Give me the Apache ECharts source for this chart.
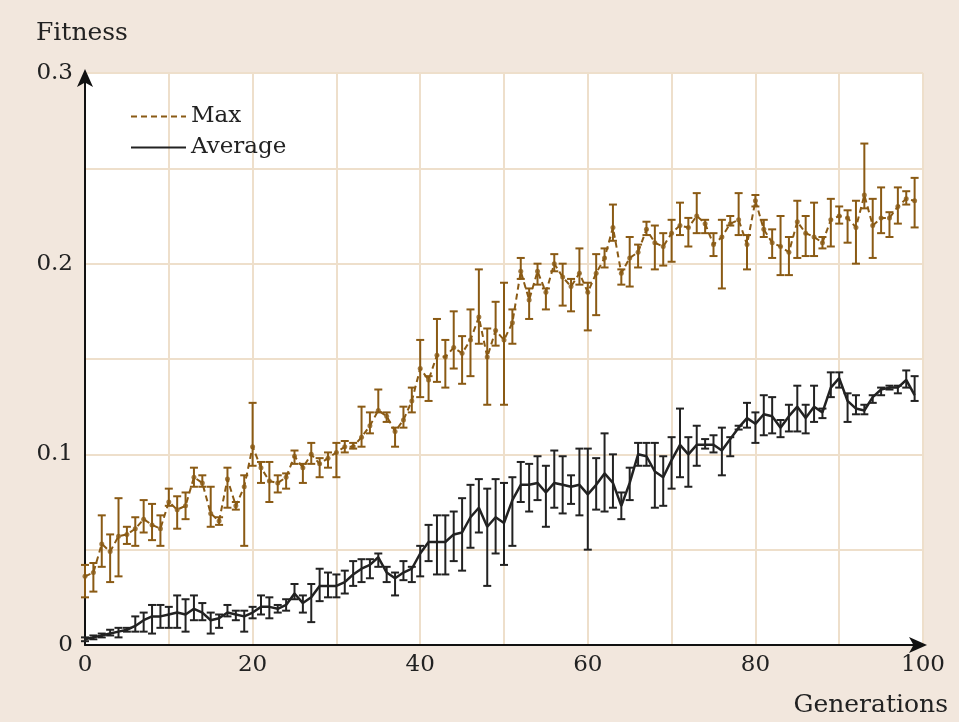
<!DOCTYPE html>
<html>
<head>
<meta charset="utf-8">
<script src="https://cdn.jsdelivr.net/npm/echarts@6/dist/echarts.min.js"></script>
<style>
html,body{margin:0;padding:0;background:#f2e7dd;}
#chart{width:959px;height:722px;}
</style>
</head>
<body>
<div id="chart"></div>
<script>
const generations = [0,1,2,3,4,5,6,7,8,9,10,11,12,13,14,15,16,17,18,19,20,21,22,23,24,25,26,27,28,29,30,31,32,33,34,35,36,37,38,39,40,41,42,43,44,45,46,47,48,49,50,51,52,53,54,55,56,57,58,59,60,61,62,63,64,65,66,67,68,69,70,71,72,73,74,75,76,77,78,79,80,81,82,83,84,85,86,87,88,89,90,91,92,93,94,95,96,97,98,99];

const maxMean = [0.036,0.038,0.053,0.049,0.057,0.058,0.061,0.066,0.063,0.061,0.075,0.071,0.073,0.088,0.085,0.069,0.065,0.087,0.073,0.083,
0.104,0.093,0.086,0.085,0.088,0.099,0.093,0.100,0.095,0.098,0.101,0.104,0.104,0.109,0.115,0.123,0.120,0.112,0.118,0.128,
0.145,0.139,0.152,0.151,0.156,0.153,0.160,0.172,0.151,0.165,0.160,0.169,0.196,0.181,0.196,0.185,0.200,0.193,0.188,0.195,
0.185,0.195,0.203,0.219,0.195,0.203,0.206,0.218,0.211,0.209,0.216,0.220,0.219,0.225,0.221,0.210,0.214,0.221,0.223,0.210,
0.233,0.218,0.211,0.209,0.206,0.222,0.216,0.214,0.211,0.223,0.225,0.224,0.219,0.236,0.220,0.224,0.224,0.230,0.234,0.233];
const maxLow = [0.025,0.028,0.041,0.033,0.036,0.053,0.052,0.059,0.055,0.052,0.073,0.061,0.066,0.083,0.083,0.062,0.063,0.072,0.071,0.052,
0.094,0.085,0.075,0.080,0.082,0.095,0.085,0.095,0.088,0.093,0.088,0.101,0.103,0.104,0.111,0.122,0.117,0.104,0.114,0.122,
0.130,0.128,0.138,0.135,0.145,0.137,0.141,0.158,0.126,0.157,0.126,0.158,0.192,0.171,0.189,0.176,0.196,0.178,0.175,0.189,
0.165,0.173,0.198,0.212,0.189,0.188,0.198,0.215,0.197,0.199,0.201,0.215,0.209,0.216,0.216,0.204,0.187,0.220,0.215,0.197,
0.230,0.214,0.203,0.194,0.194,0.203,0.204,0.204,0.208,0.209,0.221,0.211,0.200,0.229,0.203,0.216,0.214,0.221,0.231,0.219];
const maxHigh = [0.042,0.043,0.068,0.058,0.077,0.062,0.067,0.076,0.074,0.068,0.082,0.078,0.080,0.093,0.089,0.083,0.067,0.093,0.075,0.089,
0.127,0.096,0.096,0.089,0.090,0.102,0.095,0.106,0.098,0.101,0.106,0.107,0.106,0.125,0.122,0.134,0.122,0.114,0.125,0.135,
0.160,0.141,0.171,0.160,0.175,0.162,0.176,0.197,0.166,0.180,0.190,0.176,0.203,0.187,0.200,0.187,0.205,0.200,0.192,0.208,
0.190,0.205,0.208,0.231,0.197,0.214,0.210,0.222,0.220,0.216,0.223,0.232,0.224,0.237,0.223,0.216,0.223,0.225,0.237,0.215,
0.236,0.223,0.218,0.225,0.214,0.233,0.225,0.232,0.214,0.234,0.230,0.228,0.233,0.263,0.234,0.240,0.227,0.240,0.238,0.245];

const avgMean = [0.003,0.004,0.005,0.006,0.007,0.008,0.010,0.013,0.015,0.015,0.016,0.017,0.016,0.019,0.017,0.013,0.014,0.017,0.016,0.015,
0.017,0.020,0.020,0.019,0.021,0.027,0.022,0.025,0.031,0.031,0.031,0.033,0.037,0.040,0.042,0.046,0.038,0.035,0.038,0.040,
0.048,0.054,0.054,0.054,0.058,0.059,0.067,0.072,0.062,0.067,0.064,0.076,0.084,0.084,0.085,0.080,0.085,0.084,0.083,0.084,
0.079,0.084,0.090,0.085,0.073,0.085,0.100,0.099,0.091,0.088,0.097,0.105,0.100,0.105,0.105,0.105,0.102,0.108,0.114,0.119,
0.116,0.121,0.120,0.114,0.120,0.125,0.119,0.125,0.122,0.135,0.140,0.128,0.124,0.123,0.130,0.134,0.135,0.135,0.139,0.131];
const avgLow = [0.002,0.003,0.004,0.005,0.004,0.007,0.007,0.007,0.006,0.009,0.009,0.009,0.007,0.013,0.013,0.006,0.009,0.015,0.013,0.007,
0.014,0.016,0.014,0.017,0.018,0.024,0.017,0.012,0.023,0.025,0.025,0.027,0.031,0.033,0.035,0.041,0.033,0.026,0.034,0.033,
0.036,0.044,0.037,0.037,0.044,0.039,0.051,0.059,0.031,0.048,0.042,0.052,0.075,0.070,0.076,0.062,0.072,0.069,0.074,0.068,
0.050,0.071,0.070,0.072,0.066,0.076,0.094,0.094,0.072,0.073,0.082,0.088,0.083,0.094,0.103,0.101,0.089,0.099,0.113,0.114,
0.106,0.110,0.111,0.109,0.112,0.112,0.111,0.117,0.119,0.130,0.135,0.117,0.121,0.121,0.127,0.131,0.134,0.132,0.135,0.128];
const avgHigh = [0.004,0.005,0.006,0.008,0.009,0.009,0.015,0.017,0.021,0.021,0.020,0.026,0.024,0.026,0.022,0.017,0.016,0.021,0.018,0.018,
0.020,0.026,0.025,0.021,0.024,0.032,0.026,0.032,0.040,0.038,0.037,0.039,0.044,0.045,0.045,0.048,0.041,0.038,0.044,0.041,
0.052,0.063,0.068,0.068,0.070,0.077,0.084,0.087,0.082,0.087,0.085,0.088,0.096,0.095,0.099,0.094,0.102,0.099,0.089,0.103,
0.103,0.098,0.111,0.100,0.080,0.093,0.106,0.106,0.106,0.099,0.109,0.124,0.109,0.115,0.108,0.110,0.114,0.109,0.115,0.127,
0.122,0.131,0.130,0.118,0.126,0.136,0.126,0.136,0.124,0.143,0.143,0.132,0.131,0.126,0.131,0.135,0.136,0.136,0.144,0.141];

const xTicks = [0,20,40,60,80,100];
const yTicks = [0,0.1,0.2,0.3];

const BROWN = '#8a5a14';
const DARK = '#222222';
const FONT = '"DejaVu Serif", "Liberation Serif", serif';

function errRender(color) {
  return function (params, api) {
    const x = api.value(0), lo = api.value(1), hi = api.value(2);
    const p1 = api.coord([x, hi]);
    const p2 = api.coord([x, lo]);
    const hw = 4;
    const style = { stroke: color, lineWidth: 2, fill: null };
    return {
      type: 'group',
      children: [
        { type: 'line', shape: { x1: p1[0], y1: p1[1], x2: p2[0], y2: p2[1] }, style: style },
        { type: 'line', shape: { x1: p1[0] - hw, y1: p1[1], x2: p1[0] + hw, y2: p1[1] }, style: style },
        { type: 'line', shape: { x1: p2[0] - hw, y1: p2[1], x2: p2[0] + hw, y2: p2[1] }, style: style }
      ]
    };
  };
}

const maxErr = generations.map((g, i) => [g, maxLow[i], maxHigh[i]]);
const avgErr = generations.map((g, i) => [g, avgLow[i], avgHigh[i]]);
const maxLine = generations.map((g, i) => [g, maxMean[i]]);
const avgLine = generations.map((g, i) => [g, avgMean[i]]);

const chart = echarts.init(document.getElementById('chart'), null, { renderer: 'canvas' });
chart.setOption({
  animation: false,
  backgroundColor: '#f2e7dd',
  grid: { left: 85, right: 36, top: 73, bottom: 77, show: true, backgroundColor: '#ffffff', borderWidth: 0 },
  legend: {
    data: ['Max', 'Average'],
    orient: 'vertical',
    left: 125,
    top: 100,
    itemWidth: 55,
    itemHeight: 14,
    itemGap: 8,
    itemStyle: { opacity: 0 },
    textStyle: { fontFamily: FONT, fontSize: 23, color: DARK }
  },
  xAxis: {
    type: 'value',
    min: 0,
    max: 100,
    interval: 10,
    axisLine: { show: true, lineStyle: { color: '#111', width: 2 }, symbol: ['none', 'arrow'], symbolSize: [12, 18], symbolOffset: [0, 4] },
    axisTick: { show: false },
    axisLabel: {
      margin: 9,
      fontFamily: FONT, fontSize: 23, color: DARK,
      formatter: function (v) { return xTicks.indexOf(v) >= 0 ? String(v) : ''; }
    },
    splitLine: { show: true, lineStyle: { color: '#eedfcb', width: 2 } }
  },
  yAxis: {
    type: 'value',
    min: 0,
    max: 0.3,
    interval: 0.05,
    axisLine: { show: true, lineStyle: { color: '#111', width: 2 }, symbol: ['none', 'arrow'], symbolSize: [12, 18], symbolOffset: [0, 4] },
    axisTick: { show: false },
    axisLabel: {
      margin: 12,
      fontFamily: FONT, fontSize: 23, color: DARK,
      formatter: function (v) {
        for (const t of yTicks) { if (Math.abs(v - t) < 1e-9) return t === 0 ? '0' : t.toFixed(1); }
        return '';
      }
    },
    splitLine: { show: true, lineStyle: { color: '#eedfcb', width: 2 } }
  },
  graphic: [
    { type: 'text', x: 36, y: 33, style: { text: 'Fitness', fill: DARK, font: '25px ' + FONT, verticalAlign: 'middle', align: 'left' } },
    { type: 'text', x: 948, y: 705, style: { text: 'Generations', fill: DARK, font: '25px ' + FONT, verticalAlign: 'middle', align: 'right' } }
  ],
  series: [
    { name: 'MaxErr', type: 'custom', renderItem: errRender(BROWN), data: maxErr, encode: { x: 0, y: [1, 2] }, z: 3 },
    { name: 'AvgErr', type: 'custom', renderItem: errRender(DARK), data: avgErr, encode: { x: 0, y: [1, 2] }, z: 3 },
    { name: 'Max', type: 'line', data: maxLine, symbol: 'none', color: BROWN,
      lineStyle: { color: BROWN, width: 2, type: [6, 4] }, z: 4 },
    { name: 'MaxPts', type: 'scatter', data: maxLine, symbol: 'circle', symbolSize: 5,
      itemStyle: { color: BROWN }, z: 5 },
    { name: 'Average', type: 'line', data: avgLine, symbol: 'none', color: DARK,
      lineStyle: { color: DARK, width: 2.5 }, z: 4 }
  ]
});
</script>
</body>
</html>
